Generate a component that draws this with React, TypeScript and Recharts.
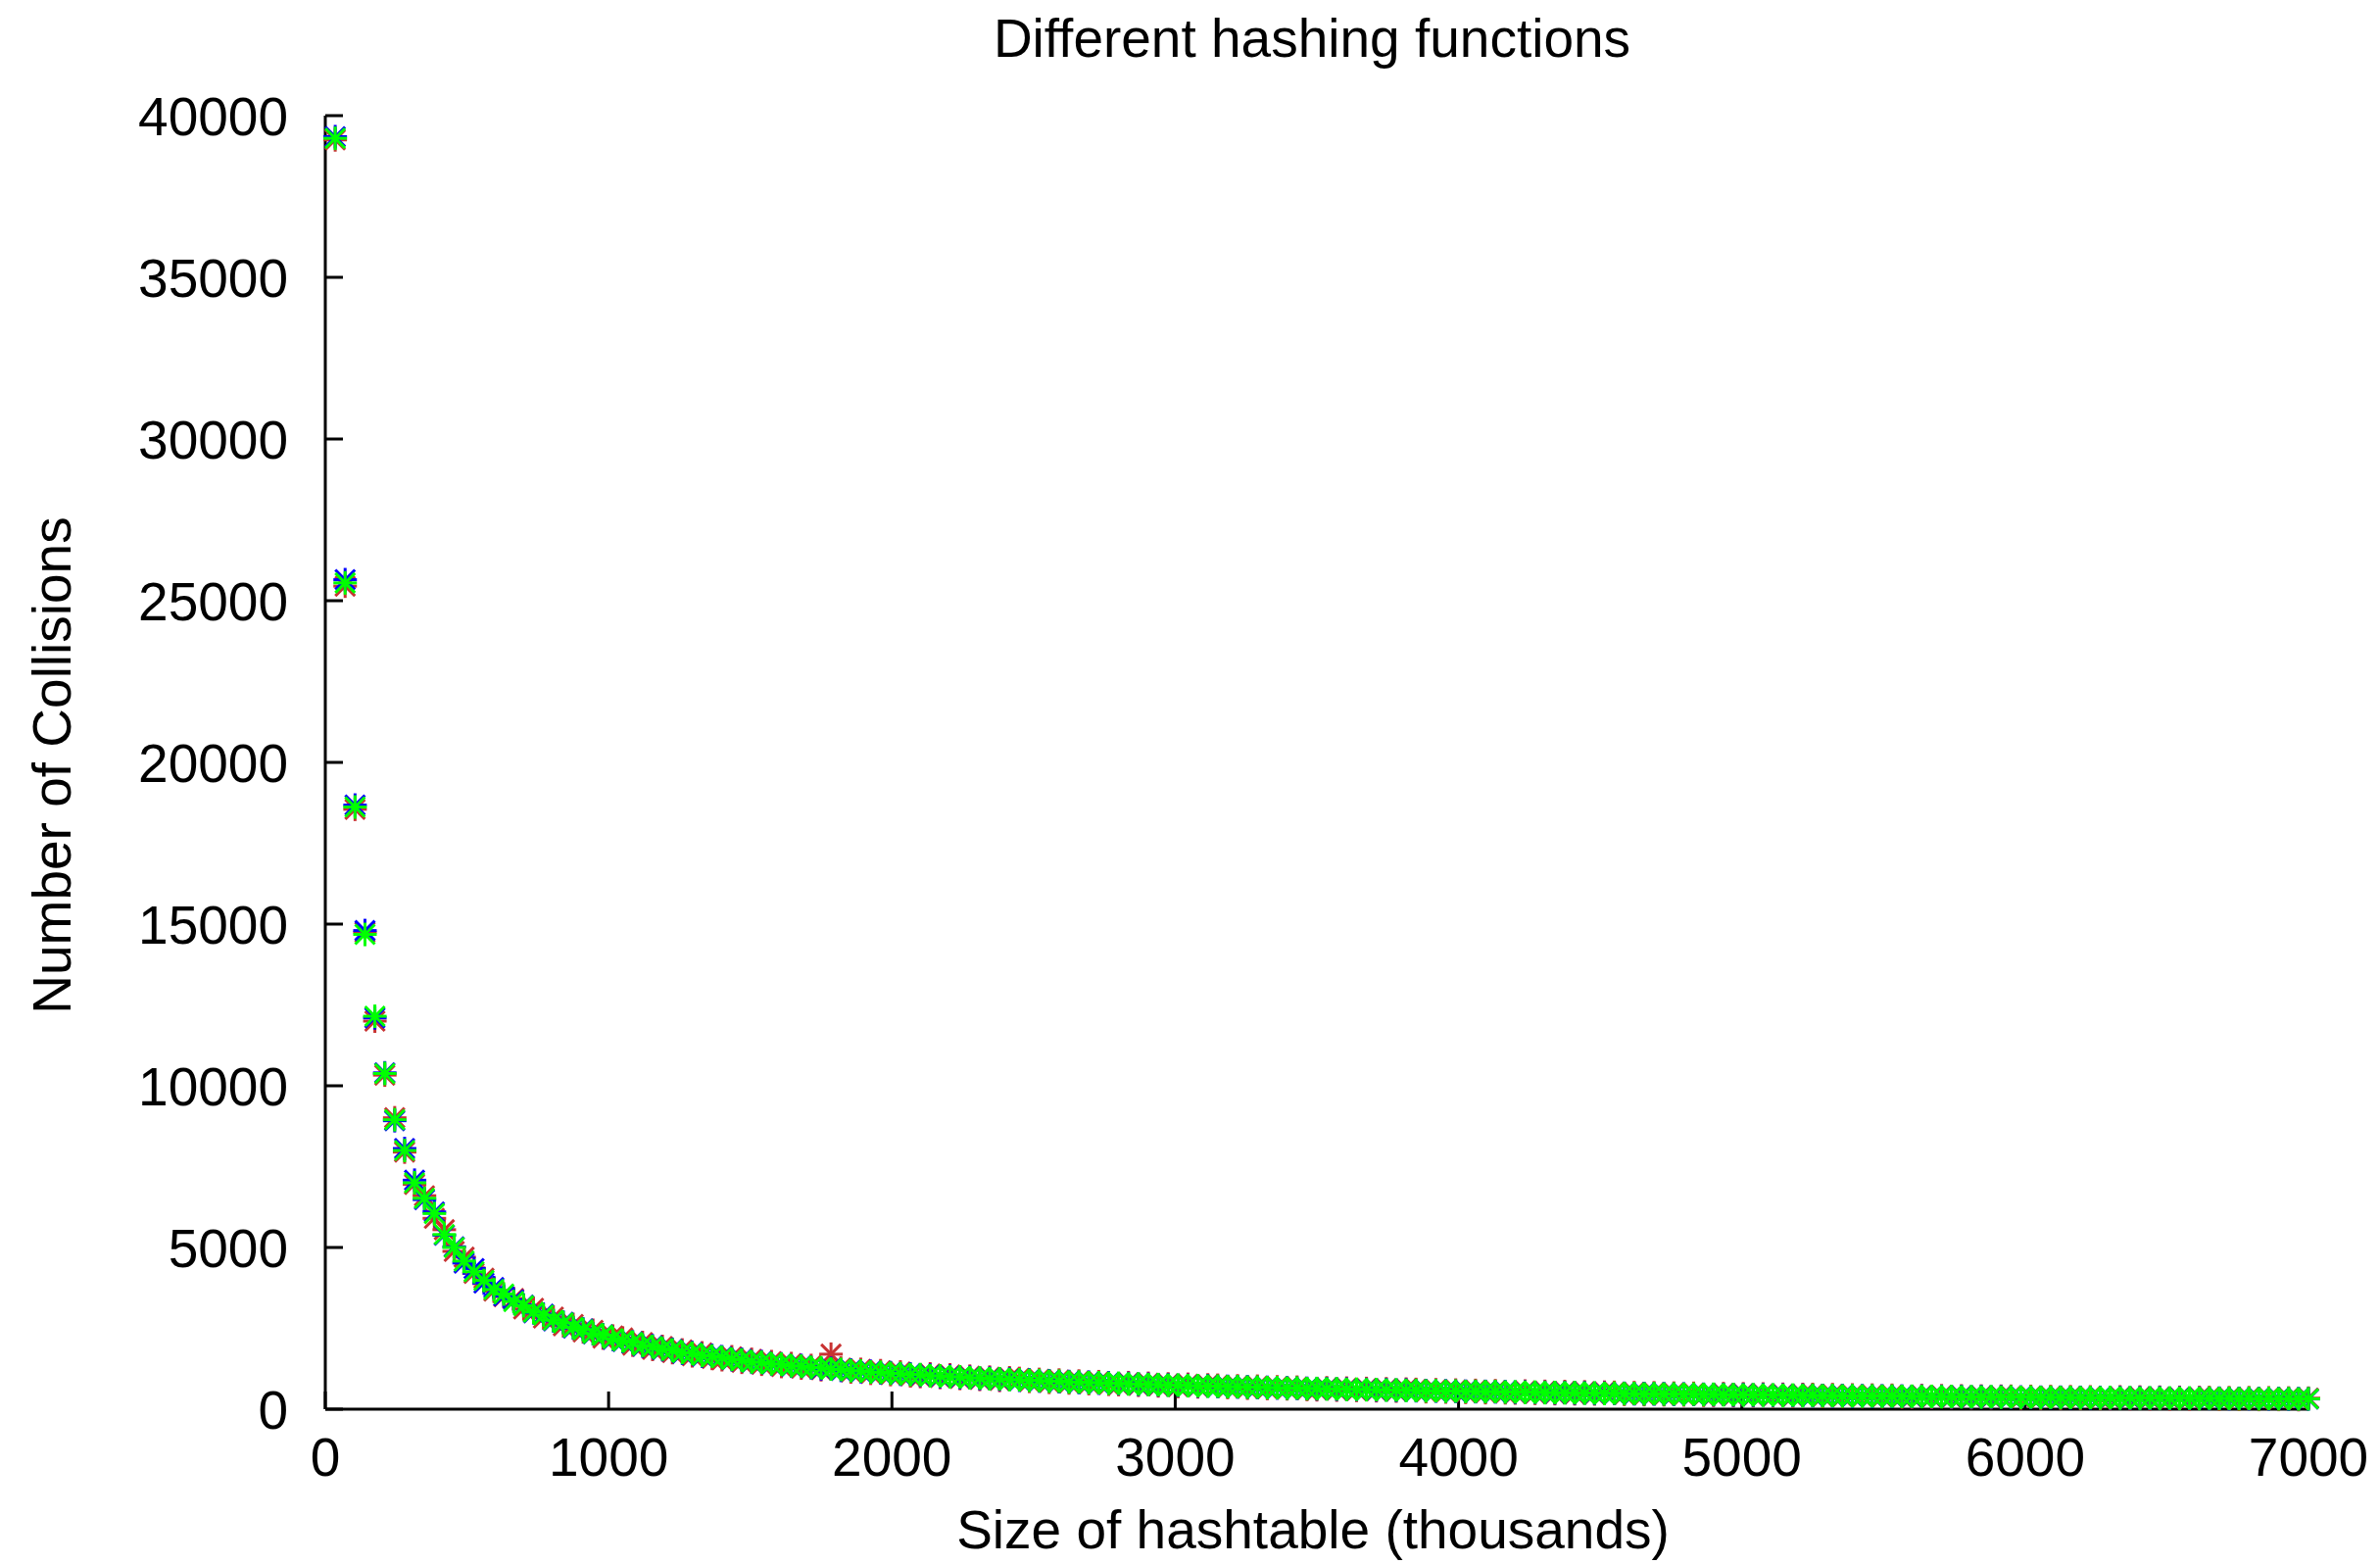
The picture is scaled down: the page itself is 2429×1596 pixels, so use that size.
import React from "react";
import { ScatterChart, Scatter, XAxis, YAxis } from "recharts";

// table sizes go up in steps of 35 (thousands), 200 sizes per run
const SIZE_STEP = 35;

const X_TICKS = [0, 1000, 2000, 3000, 4000, 5000, 6000, 7000];
const Y_TICKS = [0, 5000, 10000, 15000, 20000, 25000, 30000, 35000, 40000];

const RED = [
  39250, 25450, 18550, 14750, 12000, 10330, 9010, 7950, 6950,
  6600, 5900, 5550, 4880, 4700, 4200, 4050, 3650, 3480, 3420,
  3100, 3120, 2820, 2850, 2580, 2620, 2390, 2440, 2200, 2260,
  2200, 1980, 2060, 1850, 1940, 1750, 1830, 1650, 1740, 1570,
  1530, 1620, 1450, 1540, 1390, 1470, 1320, 1410, 1270, 1350,
  1220, 1700, 1270, 1150, 1230, 1110, 1190, 1070, 1150, 1030,
  1010, 1090, 980, 1060, 950, 1020, 920, 990, 890, 970,
  950, 860, 920, 830, 900, 810, 870, 790, 850, 770,
  760, 820, 740, 800, 720, 780, 700, 770, 690, 750,
  740, 670, 720, 650, 710, 640, 690, 630, 680, 610,
  600, 660, 590, 650, 580, 640, 570, 630, 560, 620,
  610, 540, 600, 530, 590, 520, 580, 510, 570, 505,
  500, 560, 490, 550, 480, 545, 475, 535, 470, 525,
  520, 460, 510, 450, 505, 445, 495, 440, 490, 430,
  430, 480, 420, 475, 415, 470, 410, 460, 405, 455,
  455, 395, 450, 390, 440, 385, 435, 380, 430, 375,
  370, 420, 365, 415, 360, 410, 355, 405, 355, 400,
  400, 345, 395, 340, 390, 340, 385, 335, 380, 330,
  330, 380, 325, 375, 320, 370, 315, 365, 315, 360,
  360, 310, 355, 305, 355, 300, 350, 300, 345, 295,
  340,
];

const BLUE = [
  39350, 25650, 18680, 14800, 12100, 10400, 8920, 8060, 7080,
  6480, 6100, 5380, 5020, 4520, 4350, 3900, 3760, 3500, 3380,
  3220, 2980, 2940, 2730, 2690, 2510, 2480, 2330, 2300, 2160,
  2090, 2080, 1950, 1960, 1840, 1850, 1730, 1750, 1640, 1660,
  1620, 1530, 1540, 1450, 1470, 1390, 1400, 1330, 1350, 1280,
  1250, 1260, 1200, 1210, 1160, 1170, 1120, 1130, 1080, 1090,
  1050, 1050, 1010, 1020, 980, 985, 950, 955, 925, 930,
  895, 905, 870, 880, 850, 855, 825, 835, 805, 815,
  790, 795, 770, 770, 750, 750, 735, 735, 715, 720,
  700, 705, 685, 690, 670, 675, 655, 660, 645, 645,
  630, 635, 620, 620, 605, 610, 595, 600, 585, 590,
  570, 575, 560, 565, 550, 555, 540, 550, 535, 540,
  525, 530, 515, 520, 505, 515, 500, 505, 490, 495,
  485, 490, 475, 480, 470, 475, 460, 470, 455, 460,
  450, 455, 440, 450, 435, 445, 430, 435, 425, 430,
  420, 425, 415, 420, 405, 415, 400, 410, 395, 405,
  390, 400, 385, 395, 380, 390, 375, 385, 375, 380,
  370, 375, 365, 370, 360, 370, 355, 365, 350, 360,
  350, 355, 345, 350, 340, 350, 335, 345, 335, 340,
  330, 340, 325, 335, 325, 330, 320, 330, 315, 325,
  315,
];

const GREEN = [
  39300, 25550, 18620, 14680, 12150, 10380, 8950, 8000, 7000,
  6520, 6050, 5400, 5000, 4580, 4250, 3980, 3700, 3560, 3330,
  3200, 3000, 2910, 2750, 2670, 2530, 2460, 2340, 2290, 2180,
  2110, 2070, 1970, 1940, 1860, 1830, 1750, 1730, 1660, 1640,
  1600, 1540, 1520, 1460, 1450, 1400, 1390, 1340, 1330, 1290,
  1280, 1240, 1230, 1190, 1180, 1150, 1140, 1110, 1100, 1070,
  1070, 1030, 1030, 1000, 1000, 970, 965, 940, 940, 915,
  910, 890, 885, 865, 865, 840, 840, 820, 820, 800,
  800, 780, 780, 760, 760, 740, 745, 725, 725, 710,
  710, 695, 695, 680, 680, 665, 665, 650, 655, 635,
  640, 625, 630, 610, 615, 600, 605, 590, 595, 580,
  580, 565, 570, 555, 560, 545, 550, 540, 545, 530,
  535, 520, 525, 510, 515, 505, 510, 495, 500, 485,
  495, 480, 485, 470, 480, 465, 470, 460, 465, 450,
  460, 445, 450, 440, 445, 435, 440, 425, 435, 420,
  430, 415, 425, 410, 415, 405, 410, 400, 405, 395,
  400, 390, 395, 385, 390, 380, 385, 375, 385, 370,
  380, 365, 375, 360, 370, 360, 365, 355, 360, 350,
  360, 345, 355, 340, 350, 340, 345, 335, 345, 330,
  340, 330, 335, 325, 335, 320, 330, 320, 325, 315,
  320,
];

const toPoints = (values: number[]) =>
  values.map((y, i) => ({ x: (i + 1) * SIZE_STEP, y }));

const FONT = '"Liberation Sans", Arial, sans-serif';

// gnuplot style "*" point: a plus laid over an x
const star = (color: string) => (props: any) => {
  const { cx, cy } = props;
  const p = 12;
  const d = 10;
  return (
    <g stroke={color} strokeWidth={3}>
      <line x1={cx - p} y1={cy} x2={cx + p} y2={cy} />
      <line x1={cx} y1={cy - p} x2={cx} y2={cy + p} />
      <line x1={cx - d} y1={cy - d} x2={cx + d} y2={cy + d} />
      <line x1={cx - d} y1={cy + d} x2={cx + d} y2={cy - d} />
    </g>
  );
};

const tickStyle = { fontSize: 55, fill: "#000", fontFamily: FONT };

export default function App() {
  return (
    <div style={{ position: "relative", width: 2429, height: 1596, background: "#fff" }}>
      <style>{"body{margin:0}"}</style>
      <ScatterChart
        width={2429}
        height={1596}
        margin={{ top: 118, right: 73, bottom: 58, left: 132 }}
      >
        <XAxis
          type="number"
          dataKey="x"
          domain={[0, 7000]}
          ticks={X_TICKS}
          interval={0}
          height={100}
          tickSize={-18}
          tickMargin={47}
          axisLine={{ stroke: "#000", strokeWidth: 3 }}
          tickLine={{ stroke: "#000", strokeWidth: 3 }}
          tick={tickStyle}
        />
        <YAxis
          type="number"
          dataKey="y"
          domain={[0, 40000]}
          ticks={Y_TICKS}
          interval={0}
          width={200}
          tickSize={-18}
          tickMargin={56}
          axisLine={{ stroke: "#000", strokeWidth: 3 }}
          tickLine={{ stroke: "#000", strokeWidth: 3 }}
          tick={tickStyle}
        />
        <Scatter data={toPoints(RED)} shape={star("#c83232")} isAnimationActive={false} />
        <Scatter data={toPoints(BLUE)} shape={star("#0000ff")} isAnimationActive={false} />
        <Scatter data={toPoints(GREEN)} shape={star("#00ff00")} isAnimationActive={false} />
      </ScatterChart>
      <svg
        width={2429}
        height={1596}
        style={{ position: "absolute", left: 0, top: 0, pointerEvents: "none" }}
        fontFamily={FONT}
        fontSize={55}
        fill="#000"
      >
        <text x={1339} y={58} textAnchor="middle">Different hashing functions</text>
        <text x={1340} y={1580} textAnchor="middle">Size of hashtable (thousands)</text>
        <text transform="translate(72,781) rotate(-90)" textAnchor="middle">
          Number of Collisions
        </text>
      </svg>
    </div>
  );
}
